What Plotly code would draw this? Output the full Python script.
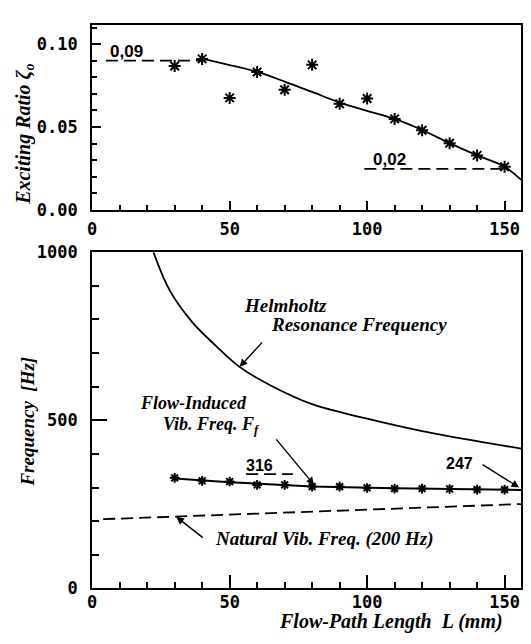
import plotly.graph_objects as go

# ---------------- data ----------------
L_pts = [30, 40, 50, 60, 70, 80, 90, 100, 110, 120, 130, 140, 150]
exciting_ratio = [0.0869, 0.0912, 0.0676, 0.0833, 0.0725, 0.0876, 0.0641,
                  0.0672, 0.0549, 0.0480, 0.0402, 0.0328, 0.0259]
ratio_fit_L = [40, 50, 60, 70, 80, 90, 100, 110, 120, 130, 140, 150, 156]
ratio_fit = [0.0912, 0.0875, 0.0833, 0.0775, 0.0712, 0.0648, 0.0598,
             0.0549, 0.0482, 0.0402, 0.0328, 0.0259, 0.0180]
ratio_hi_L = [5, 40]
ratio_hi = [0.0902, 0.0902]
ratio_lo_L = [99, 150]
ratio_lo = [0.0247, 0.0247]

flow_freq = [329, 320, 318, 308, 308, 303, 303, 299, 297, 297, 296, 294, 294]
flow_fit_L = [30, 50, 80, 110, 156]
flow_fit = [327, 316, 303, 298, 293]
flow_316_L = [56, 73]
flow_316 = [340, 340]

helm_L = [22.3, 28.3, 36.7, 45.1, 53.6, 64.4, 80, 100, 120, 140, 156]
helm_f = [1000, 885, 789, 721, 659, 606, 548, 505, 468, 438, 416]

natural_L = [4, 156]
natural_f = [206, 251]

x_ticks = [0, 50, 100, 150]
x_ticktext = ["0", "50", "100", "150"]
y1_ticks = [0.0, 0.05, 0.10]
y1_ticktext = ["0.00", "0.05", "0.10"]
y2_ticks = [0, 500, 1000]
y2_ticktext = ["0", "500", "1000"]

# ---------------- figure ----------------
W, H = 531, 644
fig = go.Figure()

BLACK = "black"
DASH = "12px,6px"
mk = dict(symbol="asterisk-open", size=10, color=BLACK, line=dict(color=BLACK, width=2))

# top panel
fig.add_trace(go.Scatter(x=ratio_fit_L, y=ratio_fit, mode="lines",
                         line=dict(color=BLACK, width=1.8, shape="spline"),
                         xaxis="x", yaxis="y", showlegend=False))
fig.add_trace(go.Scatter(x=ratio_hi_L, y=ratio_hi, mode="lines",
                         line=dict(color=BLACK, width=1.8, dash=DASH),
                         xaxis="x", yaxis="y", showlegend=False))
fig.add_trace(go.Scatter(x=ratio_lo_L, y=ratio_lo, mode="lines",
                         line=dict(color=BLACK, width=1.8, dash=DASH),
                         xaxis="x", yaxis="y", showlegend=False))
fig.add_trace(go.Scatter(x=L_pts, y=exciting_ratio, mode="markers", marker=mk,
                         xaxis="x", yaxis="y", showlegend=False))

# bottom panel
fig.add_trace(go.Scatter(x=helm_L, y=helm_f, mode="lines",
                         line=dict(color=BLACK, width=1.8, shape="spline"),
                         xaxis="x2", yaxis="y2", showlegend=False))
fig.add_trace(go.Scatter(x=natural_L, y=natural_f, mode="lines",
                         line=dict(color=BLACK, width=1.8, dash=DASH),
                         xaxis="x2", yaxis="y2", showlegend=False))
fig.add_trace(go.Scatter(x=flow_316_L, y=flow_316, mode="lines",
                         line=dict(color=BLACK, width=1.8, dash=DASH),
                         xaxis="x2", yaxis="y2", showlegend=False))
fig.add_trace(go.Scatter(x=flow_fit_L, y=flow_fit, mode="lines",
                         line=dict(color=BLACK, width=2),
                         xaxis="x2", yaxis="y2", showlegend=False))
fig.add_trace(go.Scatter(x=L_pts, y=flow_freq, mode="markers",
                         marker=dict(symbol="asterisk-open", size=8, color=BLACK,
                                     line=dict(color=BLACK, width=2)),
                         xaxis="x2", yaxis="y2", showlegend=False))

tickfont = dict(family="DejaVu Sans Mono", size=17, color=BLACK, weight="bold")
xdom = [88 / W, 521 / W]

def xaxis_common(anchor, minor_len, major_len, standoff):
    return dict(domain=xdom, anchor=anchor, range=[0, 156], tickmode="array",
                tickvals=x_ticks, ticktext=x_ticktext, ticks="inside",
                ticklen=major_len, tickwidth=2, tickcolor=BLACK,
                minor=dict(dtick=10, tick0=0, ticks="inside", ticklen=minor_len,
                           tickwidth=1.5, tickcolor=BLACK),
                showline=True, linewidth=2, linecolor=BLACK, mirror=True,
                showgrid=False, zeroline=False, tickfont=tickfont,
                ticklabelstandoff=standoff)

serif = dict(family="Liberation Serif", color=BLACK, weight="bold", style="italic")

fig.update_layout(
    width=W, height=H,
    margin=dict(l=0, r=0, t=0, b=0, pad=0),
    paper_bgcolor="white", plot_bgcolor="white",
    showlegend=False,
    xaxis=xaxis_common("y", 5, 9, 3),
    yaxis=dict(domain=[1 - 206 / H, 1 - 15 / H], anchor="x", range=[0, 0.112],
               tickmode="array", tickvals=y1_ticks, ticktext=y1_ticktext,
               ticks="inside", ticklen=9, tickwidth=2, tickcolor=BLACK,
               minor=dict(dtick=0.01, tick0=0, ticks="inside", ticklen=5,
                          tickwidth=1.5, tickcolor=BLACK),
               showline=True, linewidth=2, linecolor=BLACK, mirror=True,
               showgrid=False, zeroline=False, tickfont=tickfont,
               ticklabelstandoff=9),
    xaxis2=xaxis_common("y2", 6, 13, -3),
    yaxis2=dict(domain=[1 - 597 / H, 1 - 250 / H], anchor="x2", range=[0, 1000],
                tickmode="array", tickvals=y2_ticks, ticktext=y2_ticktext,
                ticks="inside", ticklen=15, tickwidth=2, tickcolor=BLACK,
                minor=dict(dtick=100, tick0=0, ticks="inside", ticklen=7,
                           tickwidth=1.5, tickcolor=BLACK),
                showline=True, linewidth=2, linecolor=BLACK, mirror=True,
                showgrid=False, zeroline=False, tickfont=tickfont,
                ticklabelstandoff=9),
)

def ptext(px, py, text, size=19, angle=0, font=None, xanchor="center"):
    f = dict(serif if font is None else font)
    f["size"] = size
    fig.add_annotation(x=px / W, y=1 - py / H, xref="paper", yref="paper",
                       text=text, showarrow=False, font=f, textangle=angle,
                       xanchor=xanchor, yanchor="middle")

# axis titles
ptext(19, 128, "Exciting Ratio ζ<sub>o</sub>", size=20, angle=-90)
ptext(23, 425, "Frequency  [Hz]", size=19, angle=-90)
ptext(390, 631, "Flow-Path Length  L (mm)", size=20)

# curve labels
ptext(283, 305, "Helmholtz", size=19)
ptext(357, 325, "Resonance Frequency", size=19)
ptext(190, 406, "Flow-Induced", size=18)
ptext(208, 429, "Vib. Freq. F<sub>f</sub>", size=18)
ptext(322, 546, "Natural Vib. Freq. (200 Hz)", size=19)

sansb = dict(family="Liberation Sans", color=BLACK, weight="bold")
ptext(123, 43, "0,09", size=17, font=sansb)
ptext(388, 154, "0,02", size=17, font=sansb)
ptext(257, 470, "316", size=16, font=sansb)
ptext(459, 468, "247", size=16, font=sansb)

# arrows (head at data point, tail offset in pixels)
def arrow(x, y, ax, ay):
    fig.add_annotation(x=x, y=y, xref="x2", yref="y2", ax=ax, ay=ay,
                       axref="pixel", ayref="pixel", text="", showarrow=True,
                       arrowhead=2, arrowsize=1.1, arrowwidth=1.4, arrowcolor=BLACK)

arrow(53.6, 659, 24, -26)
arrow(80.7, 308, -39, -47)
arrow(155.3, 300, -38, -24)
arrow(30.6, 213, 28, 22)

fig.write_html("out.html", config={"displayModeBar": False},
               post_script="document.body.style.margin='0';"
                           "document.body.style.overflow='hidden';")
